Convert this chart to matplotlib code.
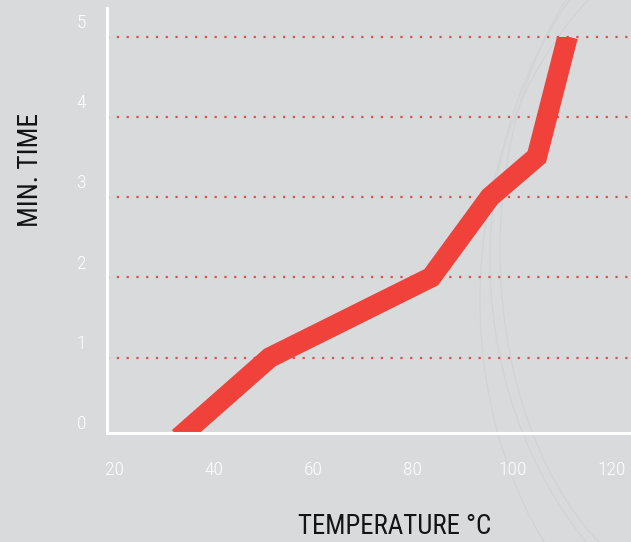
import matplotlib
matplotlib.use("Agg")
import matplotlib.pyplot as plt
from matplotlib import font_manager as fm
from matplotlib.patches import Rectangle, Arc
from matplotlib.transforms import ScaledTranslation

# ---- data ----
temperature = [33.0, 51.3, 83.7, 95.5, 104.9, 111.1]
min_time = [0.0, 1.0, 2.0, 3.0, 3.5, 5.0]
x_ticks = [20, 40, 60, 80, 100, 120]
y_ticks = [0, 1, 2, 3, 4, 5]
grid_levels = [1, 2, 3, 4, 5]
x_title = "TEMPERATURE °C"
y_title = "MIN. TIME"

# ---- fonts ----
names = {f.name for f in fm.fontManager.ttflist}
cond = next((n for n in ["Roboto Condensed", "Liberation Sans Narrow", "Open Sans Condensed"] if n in names), None)
title_font = cond if cond else "Roboto"
tick_font = cond if cond else "Roboto"

BG = "#d9dadb"
RED = "#f0413a"
GRID = "#d4534f"

W, H = 631, 542
fig = plt.figure(figsize=(W / 100, H / 100), dpi=100, facecolor=BG)

ax_left, ax_right = 107, 630
y0_px = 437.75          # pixel row of y = 0
spine_px = 433.0
top_px = 8.0
ppu_y = 80.25
ax_bottom_frac = (H - y0_px) / H
ax_h_frac = (y0_px - top_px) / H

# faint decorative arcs on the right, behind everything
deco = fig.add_axes([0, 0, 1, 1], zorder=-1)
deco.set_axis_off()
deco.set_xlim(0, W)
deco.set_ylim(H, 0)
for (cx, cy, w, h, a1, a2) in [(760, 300, 560, 760, 100, 260), (840, 260, 700, 820, 105, 255),
                               (720, 250, 440, 700, 100, 260)]:
    deco.add_patch(Arc((cx, cy), w, h, theta1=a1, theta2=a2, color="#d2d3d5", lw=0.9))

ax = fig.add_axes([ax_left / W, ax_bottom_frac, (ax_right - ax_left) / W, ax_h_frac])
ax.set_facecolor("none")

ppu_x = 4.98
xmin = 20 + (ax_left - 114) / ppu_x
xmax = 20 + (ax_right - 114) / ppu_x
ax.set_xlim(xmin, xmax)
ymax = (y0_px - top_px) / ppu_y
ax.set_ylim(0, ymax)
y_spine = (y0_px - spine_px) / ppu_y

# gridlines
for g in grid_levels:
    ax.axhline(g, color=GRID, lw=1.6, linestyle=(0, (1, 3.4)), zorder=1)

# main line, clipped between spine and y=5
line, = ax.plot(temperature, min_time, color=RED, lw=14.8, solid_joinstyle="miter",
                solid_capstyle="butt", zorder=3)
clip = Rectangle((xmin, y_spine), xmax - xmin, 5 - y_spine, transform=ax.transData)
line.set_clip_path(clip)

# spines
for s in ["top", "right"]:
    ax.spines[s].set_visible(False)
ax.spines["bottom"].set_color("white")
ax.spines["left"].set_color("white")
ax.spines["bottom"].set_linewidth(2.2)
ax.spines["left"].set_linewidth(2.2)
ax.spines["bottom"].set_position(("outward", -(y0_px - spine_px) * 0.72))
ax.spines["left"].set_bounds(y_spine, ymax)
ax.spines["bottom"].set_zorder(5)
ax.spines["left"].set_zorder(5)

ax.set_xticks(x_ticks)
ax.set_xticklabels([str(v) for v in x_ticks])
ax.set_yticks(y_ticks)
ax.set_yticklabels([str(v) for v in y_ticks])
ax.tick_params(axis="both", length=0, colors="white", labelsize=14)
ax.tick_params(axis="x", pad=20)
ax.tick_params(axis="y", pad=15)
for lab in ax.get_xticklabels() + ax.get_yticklabels():
    lab.set_family([tick_font, "DejaVu Sans"])
    lab.set_fontweight("light")
for lab in ax.get_yticklabels():
    lab.set_transform(lab.get_transform() + ScaledTranslation(0, 15.5 / 100, fig.dpi_scale_trans))

# axis titles
tx = fig.text(395 / W, 1 - 526 / H, x_title, ha="center", va="center", color="#141414",
              fontsize=19, family=[title_font, "DejaVu Sans"])
ty = fig.text(31 / W, 1 - 170 / H, y_title, ha="center", va="center", rotation=90, color="#141414",
              fontsize=19, family=[title_font, "DejaVu Sans"])

# fit title widths to reference
fig.canvas.draw()
r = fig.canvas.get_renderer()
for t, target, dim in [(tx, 194, "w"), (ty, 114, "h")]:
    bb = t.get_window_extent(r)
    cur = bb.width if dim == "w" else bb.height
    t.set_fontsize(t.get_fontsize() * target / cur)

fig.savefig("out.png", dpi=100, facecolor=BG)
